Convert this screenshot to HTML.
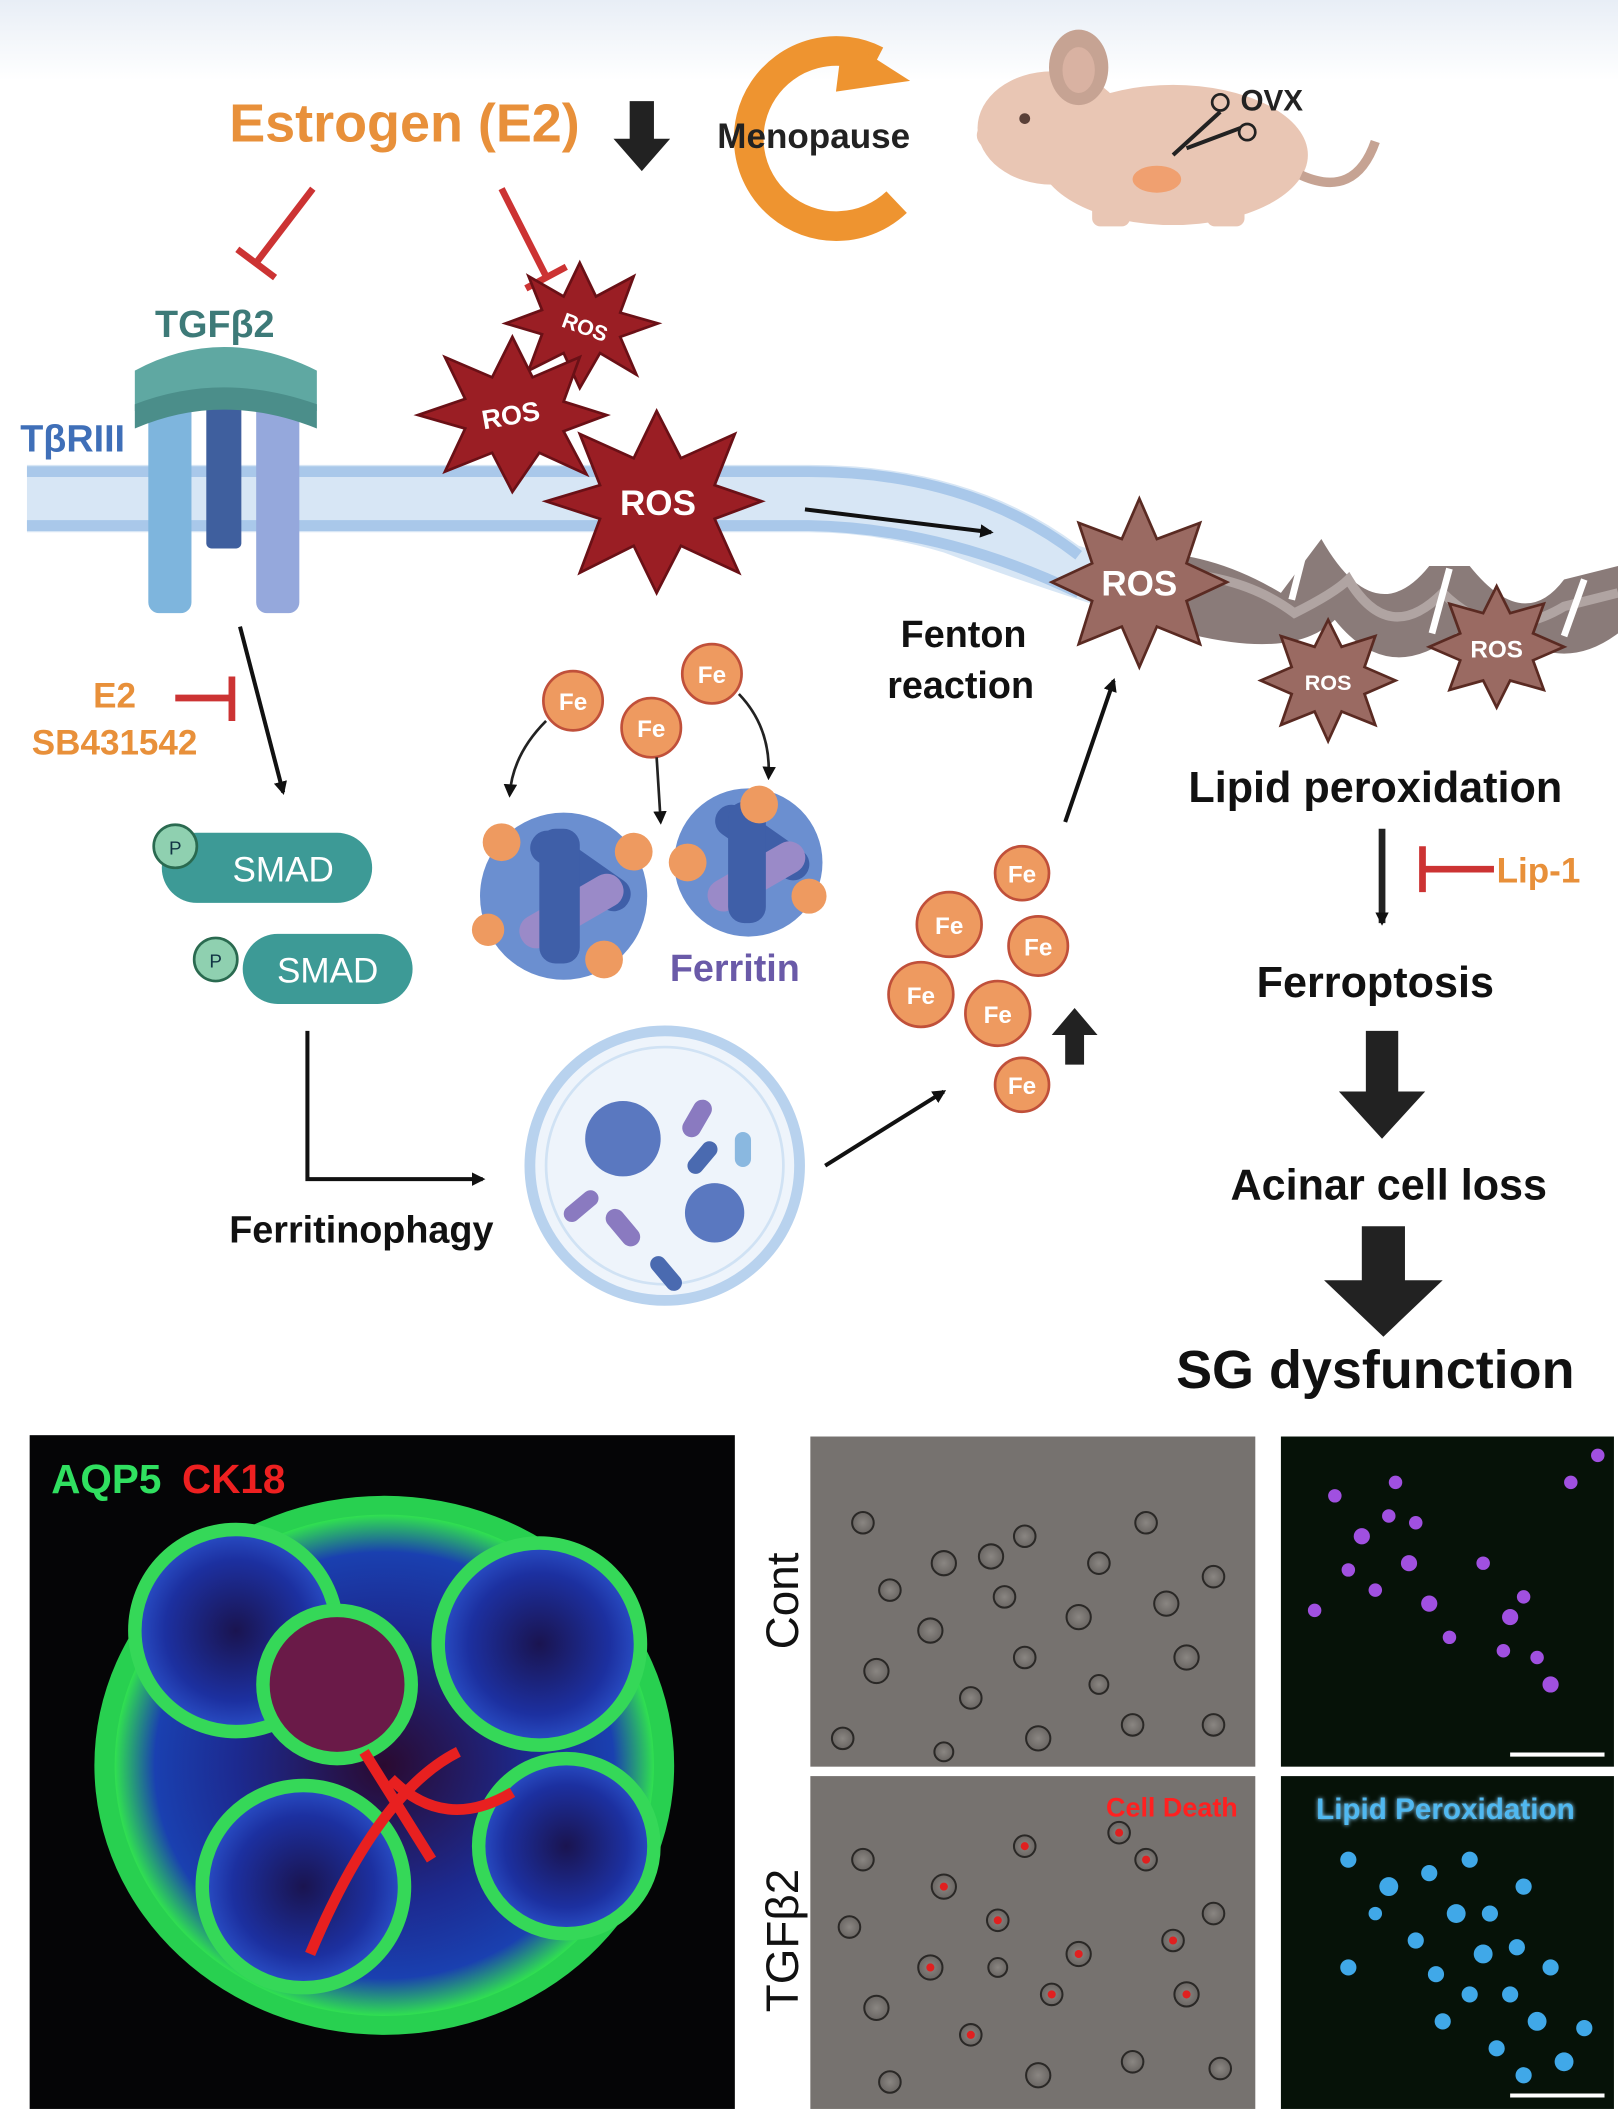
<!DOCTYPE html>
<html><head><meta charset="utf-8">
<style>
html,body{margin:0;padding:0;background:#fff;}
svg{display:block;}
text{font-family:"Liberation Sans",sans-serif;font-weight:bold;}
.n{font-weight:normal;}
</style></head>
<body>
<svg width="1618" height="2113" viewBox="0 0 1200 1568" preserveAspectRatio="none" xmlns="http://www.w3.org/2000/svg">
<defs>
<linearGradient id="topbg" x1="0" y1="0" x2="0" y2="1"><stop offset="0" stop-color="#e8eef6"/><stop offset="1" stop-color="#ffffff"/></linearGradient>
<radialGradient id="org" cx="0.5" cy="0.5" r="0.5"><stop offset="0" stop-color="#2a0a30"/><stop offset="0.55" stop-color="#1c2a90"/><stop offset="0.85" stop-color="#1a40b0"/><stop offset="1" stop-color="#30e050"/></radialGradient>
<radialGradient id="lobe" cx="0.5" cy="0.5" r="0.5"><stop offset="0" stop-color="#1a1450"/><stop offset="0.7" stop-color="#1c30a0"/><stop offset="1" stop-color="#2a50c8"/></radialGradient>
<radialGradient id="cellg" cx="0.5" cy="0.5" r="0.5"><stop offset="0" stop-color="#8a8682"/><stop offset="1" stop-color="#6a6663"/></radialGradient>
<filter id="glow"><feGaussianBlur stdDeviation="1.5"/></filter>
<marker id="ah" markerWidth="10" markerHeight="10" refX="8" refY="5" orient="auto" markerUnits="userSpaceOnUse"><path d="M0,0 L10,5 L0,10 z" fill="#111"/></marker>
</defs>
<rect x="0" y="0" width="1200" height="60" fill="url(#topbg)"/>

<text x="170" y="105" font-size="40" fill="#e8903a">Estrogen (E2)</text>
<path d="M467,75 h18 v28 h12 l-21,24 l-21,-24 h12 z" fill="#222"/>
<path d="M650,45 A65,65 0 1 0 665,150" fill="none" stroke="#ee9430" stroke-width="22"/>
<path d="M625,28 l50,32 l-55,8 z" fill="#ee9430"/>
<text x="532" y="110" font-size="26" fill="#222">Menopause</text>
<!-- mouse -->
<g fill="#e9c6b4">
<ellipse cx="870" cy="115" rx="100" ry="52"/>
<ellipse cx="780" cy="95" rx="55" ry="42"/>
<path d="M730,90 Q720,100 728,108 L760,110 Z"/>
<rect x="810" y="150" width="28" height="18" rx="6"/><rect x="895" y="150" width="28" height="18" rx="6"/>
</g>
<ellipse cx="800" cy="50" rx="22" ry="28" fill="#c6a393"/>
<ellipse cx="800" cy="52" rx="12" ry="17" fill="#d9b2a2"/>
<circle cx="760" cy="88" r="4" fill="#5a4038"/>
<path d="M965,130 q40,18 55,-25" fill="none" stroke="#c6a393" stroke-width="7"/>
<ellipse cx="858" cy="133" rx="18" ry="10" fill="#f0a070"/>
<text x="920" y="82" font-size="22" fill="#222">OVX</text>
<path d="M870,115 l35,-32 M880,110 l40,-15" stroke="#222" stroke-width="3" fill="none"/>
<circle cx="905" cy="76" r="6" fill="none" stroke="#222" stroke-width="2"/><circle cx="925" cy="98" r="6" fill="none" stroke="#222" stroke-width="2"/>

<g stroke="#cc3333" stroke-width="5" fill="none">
<path d="M232,140 L190,195 M176,185 L204,206"/>
<path d="M372,140 L405,205 M390,214 L420,198"/>
<path d="M130,518 L172,518 M172,502 L172,535"/>
<path d="M1108,645 L1055,645 M1055,628 L1055,662"/>
</g>

<path d="M20,345 L600,345 Q720,345 800,405 L880,430 L880,470 Q780,440 700,410 Q650,395 600,395 L20,395 Z" fill="#d7e6f5"/>
<path d="M20,350 L600,350 Q720,350 800,412" fill="none" stroke="#a9c8ea" stroke-width="8"/>
<path d="M20,390 L600,390 Q700,392 800,440" fill="none" stroke="#a9c8ea" stroke-width="8"/>
<path d="M850,410 Q900,410 950,440 L980,400 Q1020,470 1060,420 L1090,420 Q1130,470 1160,430 L1200,420 L1200,470 Q1160,500 1120,470 L1080,470 Q1030,510 990,460 Q960,490 880,470 Z" fill="#8a7b79"/>
<path d="M860,425 Q920,425 960,455 Q990,440 1000,430 Q1030,480 1070,440 Q1110,480 1160,450 L1200,440" fill="none" stroke="#b0a4a2" stroke-width="7"/>
<path d="M970,398 L958,445 M1075,422 L1062,470 M1175,430 L1160,472" stroke="#fff" stroke-width="5"/>

<text x="115" y="250" font-size="28" fill="#3d7a78">TGFβ2</text>
<text x="15" y="335" font-size="28" fill="#3f6fb8">TβRIII</text>
<rect x="110" y="295" width="32" height="160" rx="8" fill="#7eb5dd"/>
<rect x="153" y="295" width="26" height="112" rx="4" fill="#3f5f9e"/>
<rect x="190" y="295" width="32" height="160" rx="8" fill="#95a8dc"/>
<path d="M100,275 Q165,240 235,275 L235,305 Q165,275 100,305 Z" fill="#5fa8a2"/>
<path d="M100,300 Q165,275 235,300 L235,318 Q165,290 100,318 Z" fill="#4b8e8a"/>

<g fill="#9a1e24" stroke="#6a1016" stroke-width="2">
<polygon points="430,195 442,220 470,205 460,232 488,240 460,250 472,278 445,262 430,288 418,262 392,275 402,248 375,240 402,230 392,205 418,220"/>
<polygon points="380,250 395,280 430,265 418,298 450,308 418,320 435,352 400,336 380,365 365,336 330,350 345,318 310,308 345,296 330,265 365,280"/>
<polygon points="487,305 505,340 545,322 530,360 565,372 530,385 548,425 505,405 487,440 470,405 430,425 445,385 405,372 445,360 430,322 470,340"/>
</g>
<g font-size="20" fill="#fff" text-anchor="middle">
<text x="432" y="248" font-size="16" transform="rotate(20 432 248)">ROS</text>
<text x="380" y="315" transform="rotate(-10 380 315)">ROS</text>
<text x="488" y="382" font-size="26">ROS</text>
</g>
<line x1="597" y1="378" x2="735" y2="395" stroke="#111" stroke-width="3" marker-end="url(#ah)"/>

<g fill="#9a6a62" stroke="#5a2a22" stroke-width="2">
<polygon points="845,370 858,400 890,388 880,418 910,432 880,446 890,478 858,465 845,495 832,465 800,478 810,446 780,432 810,418 800,388 832,400"/>
<polygon points="985,460 995,480 1020,472 1012,495 1035,505 1012,515 1020,538 995,528 985,550 975,528 950,538 958,515 935,505 958,495 950,472 975,480"/>
<polygon points="1110,435 1120,455 1145,448 1137,470 1160,480 1137,490 1145,512 1120,505 1110,525 1100,505 1075,512 1083,490 1060,480 1083,470 1075,448 1100,455"/>
</g>
<g fill="#fff" text-anchor="middle">
<text x="845" y="442" font-size="26">ROS</text>
<text x="985" y="512" font-size="16">ROS</text>
<text x="1110" y="488" font-size="18">ROS</text>
</g>

<text x="668" y="480" font-size="28" fill="#111">Fenton</text>
<text x="658" y="518" font-size="28" fill="#111">reaction</text>
<line x1="790" y1="610" x2="826" y2="505" stroke="#111" stroke-width="3" marker-end="url(#ah)"/>

<text x="1020" y="595" font-size="32" fill="#111" text-anchor="middle">Lipid peroxidation</text>
<line x1="1025" y1="615" x2="1025" y2="685" stroke="#222" stroke-width="5" marker-end="url(#ah)"/>
<text x="1110" y="655" font-size="26" fill="#e8903a">Lip-1</text>
<text x="1020" y="740" font-size="32" fill="#111" text-anchor="middle">Ferroptosis</text>
<path d="M1013,765 h24 v45 h20 l-32,35 l-32,-35 h20 z" fill="#222"/>
<text x="1030" y="890" font-size="32" fill="#111" text-anchor="middle">Acinar cell loss</text>
<path d="M1010,910 h32 v40 h28 l-44,42 l-44,-42 h28 z" fill="#222"/>
<text x="1020" y="1030" font-size="40" fill="#111" text-anchor="middle">SG dysfunction</text>

<text x="85" y="525" font-size="26" fill="#e8903a" text-anchor="middle">E2</text>
<text x="85" y="560" font-size="26" fill="#e8903a" text-anchor="middle">SB431542</text>
<line x1="178" y1="465" x2="210" y2="588" stroke="#111" stroke-width="3" marker-end="url(#ah)"/>

<rect x="120" y="618" width="156" height="52" rx="26" fill="#3d9a96"/>
<circle cx="130" cy="628" r="16" fill="#8fd0b0" stroke="#2a6a50" stroke-width="2"/>
<text x="130" y="634" font-size="14" fill="#134" text-anchor="middle" style="font-weight:normal">P</text>
<text x="210" y="654" font-size="26" fill="#fff" text-anchor="middle" style="font-weight:normal">SMAD</text>
<rect x="180" y="693" width="126" height="52" rx="26" fill="#3d9a96"/>
<circle cx="160" cy="712" r="16" fill="#8fd0b0" stroke="#2a6a50" stroke-width="2"/>
<text x="160" y="718" font-size="14" fill="#134" text-anchor="middle" style="font-weight:normal">P</text>
<text x="243" y="729" font-size="26" fill="#fff" text-anchor="middle" style="font-weight:normal">SMAD</text>

<g>
<circle cx="418" cy="665" r="62" fill="#6b8fd0"/>
<rect x="375" y="630" width="85" height="25" rx="12" fill="#3f5fa8" transform="rotate(35 418 665)"/>
<rect x="375" y="665" width="85" height="25" rx="12" fill="#9a8ac8" transform="rotate(-30 418 665)"/>
<rect x="400" y="615" width="30" height="100" rx="12" fill="#3f5fa8"/>
<circle cx="555" cy="640" r="55" fill="#6b8fd0"/>
<rect x="515" y="610" width="80" height="24" rx="12" fill="#3f5fa8" transform="rotate(35 555 640)"/>
<rect x="515" y="640" width="80" height="24" rx="12" fill="#9a8ac8" transform="rotate(-30 555 640)"/>
<rect x="540" y="595" width="28" height="90" rx="12" fill="#3f5fa8"/>
</g>
<g fill="#ee9a60">
<circle cx="372" cy="625" r="14"/><circle cx="470" cy="632" r="14"/><circle cx="448" cy="712" r="14"/><circle cx="362" cy="690" r="12"/>
<circle cx="563" cy="597" r="14"/><circle cx="510" cy="640" r="14"/><circle cx="600" cy="665" r="13"/>
</g>
<text x="545" y="728" font-size="28" fill="#6a5aa8" text-anchor="middle">Ferritin</text>
<g fill="#ee9a60" stroke="#c0503a" stroke-width="2">
<circle cx="425" cy="520" r="22"/><circle cx="483" cy="540" r="22"/><circle cx="528" cy="500" r="22"/>
</g>
<g fill="#fff" font-size="18" text-anchor="middle">
<text x="425" y="527">Fe</text><text x="483" y="547">Fe</text><text x="528" y="507">Fe</text>
</g>
<g fill="none" stroke="#222" stroke-width="2">
<path d="M405,535 Q380,560 378,590" marker-end="url(#ah)"/>
<path d="M487,562 L490,610" marker-end="url(#ah)"/>
<path d="M548,515 Q572,540 570,577" marker-end="url(#ah)"/>
</g>

<path d="M228,765 L228,875 L358,875" fill="none" stroke="#111" stroke-width="3" marker-end="url(#ah)"/>
<text x="268" y="922" font-size="28" fill="#111" text-anchor="middle">Ferritinophagy</text>
<circle cx="493" cy="865" r="100" fill="#eef4fb" stroke="#b8d2ee" stroke-width="8"/>
<circle cx="493" cy="865" r="88" fill="none" stroke="#d0e2f4" stroke-width="2"/>
<circle cx="462" cy="845" r="28" fill="#5a78c0"/>
<circle cx="530" cy="900" r="22" fill="#5a78c0"/>
<g fill="#8a7ac0"><rect x="510" y="815" width="14" height="30" rx="7" transform="rotate(30 517 830)"/><rect x="455" y="895" width="14" height="32" rx="7" transform="rotate(-40 462 911)"/><rect x="425" y="880" width="12" height="30" rx="6" transform="rotate(50 431 895)"/></g>
<g fill="#4a6ab0"><rect x="515" y="845" width="12" height="28" rx="6" transform="rotate(40 521 859)"/><rect x="488" y="930" width="12" height="30" rx="6" transform="rotate(-40 494 945)"/></g>
<rect x="545" y="840" width="12" height="26" rx="6" fill="#8ab8e0"/>
<line x1="612" y1="865" x2="700" y2="810" stroke="#111" stroke-width="3" marker-end="url(#ah)"/>

<g fill="#ee9a60" stroke="#c0503a" stroke-width="2">
<circle cx="758" cy="648" r="20"/><circle cx="704" cy="686" r="24"/><circle cx="770" cy="702" r="22"/>
<circle cx="683" cy="738" r="24"/><circle cx="740" cy="752" r="24"/><circle cx="758" cy="805" r="20"/>
</g>
<g fill="#fff" font-size="18" text-anchor="middle">
<text x="758" y="655">Fe</text><text x="704" y="693">Fe</text><text x="770" y="709">Fe</text>
<text x="683" y="745">Fe</text><text x="740" y="759">Fe</text><text x="758" y="812">Fe</text>
</g>
<path d="M790,790 v-22 h-10 l17,-20 l17,20 h-10 v22 z" fill="#222"/>

<!-- bottom left image -->
<rect x="22" y="1065" width="523" height="500" fill="#050506"/>
<g>
<ellipse cx="285" cy="1310" rx="215" ry="200" fill="#28d050"/>
<ellipse cx="285" cy="1310" rx="200" ry="186" fill="url(#org)"/>
<circle cx="175" cy="1210" r="75" fill="url(#lobe)" stroke="#35d858" stroke-width="10"/>
<circle cx="400" cy="1220" r="75" fill="url(#lobe)" stroke="#35d858" stroke-width="10"/>
<circle cx="250" cy="1250" r="55" fill="#6a1a48" stroke="#35d858" stroke-width="10"/>
<circle cx="225" cy="1400" r="75" fill="url(#lobe)" stroke="#35d858" stroke-width="10"/>
<circle cx="420" cy="1370" r="65" fill="url(#lobe)" stroke="#35d858" stroke-width="10"/>
<path d="M230,1450 Q280,1330 340,1300 M290,1320 Q330,1360 380,1330 M270,1300 L320,1380" stroke="#e82020" stroke-width="8" fill="none"/>
</g>
<text x="38" y="1108" font-size="30" fill="#30e060">AQP5</text>
<text x="135" y="1108" font-size="30" fill="#ee2020">CK18</text>

<!-- middle panels -->
<rect x="601" y="1066" width="330" height="245" fill="#76726f"/>
<rect x="601" y="1318" width="330" height="247" fill="#76726f"/>
<g fill="url(#cellg)" stroke="#2a2826" stroke-width="1.5">
<circle cx="640" cy="1130" r="8"/><circle cx="700" cy="1160" r="9"/><circle cx="760" cy="1140" r="8"/><circle cx="800" cy="1200" r="9"/><circle cx="850" cy="1130" r="8"/><circle cx="880" cy="1230" r="9"/><circle cx="650" cy="1240" r="9"/><circle cx="720" cy="1260" r="8"/><circle cx="770" cy="1290" r="9"/><circle cx="900" cy="1170" r="8"/><circle cx="840" cy="1280" r="8"/><circle cx="690" cy="1210" r="9"/>
<circle cx="745" cy="1185" r="8"/><circle cx="735" cy="1155" r="9"/><circle cx="815" cy="1160" r="8"/><circle cx="660" cy="1180" r="8"/><circle cx="625" cy="1290" r="8"/><circle cx="865" cy="1190" r="9"/><circle cx="700" cy="1300" r="7"/><circle cx="900" cy="1280" r="8"/><circle cx="815" cy="1250" r="7"/><circle cx="760" cy="1230" r="8"/>
<circle cx="640" cy="1380" r="8"/><circle cx="700" cy="1400" r="9"/><circle cx="760" cy="1370" r="8"/><circle cx="800" cy="1450" r="9"/><circle cx="850" cy="1380" r="8"/><circle cx="880" cy="1480" r="9"/><circle cx="650" cy="1490" r="9"/><circle cx="720" cy="1510" r="8"/><circle cx="770" cy="1540" r="9"/><circle cx="900" cy="1420" r="8"/><circle cx="840" cy="1530" r="8"/><circle cx="690" cy="1460" r="9"/>
<circle cx="830" cy="1360" r="8"/><circle cx="740" cy="1425" r="8"/><circle cx="780" cy="1480" r="8"/><circle cx="630" cy="1430" r="8"/><circle cx="870" cy="1440" r="8"/><circle cx="740" cy="1460" r="7"/><circle cx="660" cy="1545" r="8"/><circle cx="905" cy="1535" r="8"/>
</g>
<g fill="#e02020"><circle cx="700" cy="1400" r="3"/><circle cx="800" cy="1450" r="3"/><circle cx="850" cy="1380" r="3"/><circle cx="720" cy="1510" r="3"/><circle cx="880" cy="1480" r="3"/><circle cx="760" cy="1370" r="3"/><circle cx="690" cy="1460" r="3"/><circle cx="830" cy="1360" r="3"/><circle cx="740" cy="1425" r="3"/><circle cx="780" cy="1480" r="3"/><circle cx="870" cy="1440" r="3"/></g>
<text x="918" y="1348" font-size="20" fill="#ff2020" text-anchor="end">Cell Death</text>
<text transform="translate(592,1188) rotate(-90)" font-size="34" fill="#111" text-anchor="middle" style="font-weight:normal">Cont</text>
<text transform="translate(592,1440) rotate(-90)" font-size="34" fill="#111" text-anchor="middle" style="font-weight:normal">TGFβ2</text>

<!-- right panels -->
<rect x="950" y="1066" width="247" height="245" fill="#061208"/>
<rect x="950" y="1318" width="247" height="247" fill="#061208"/>
<g fill="#a050e0">
<circle cx="990" cy="1110" r="5"/><circle cx="1010" cy="1140" r="6"/><circle cx="1030" cy="1125" r="5"/><circle cx="1045" cy="1160" r="6"/><circle cx="1020" cy="1180" r="5"/><circle cx="1060" cy="1190" r="6"/><circle cx="1075" cy="1215" r="5"/><circle cx="1120" cy="1200" r="6"/><circle cx="1140" cy="1230" r="5"/><circle cx="1150" cy="1250" r="6"/><circle cx="975" cy="1195" r="5"/><circle cx="1185" cy="1080" r="5"/><circle cx="1100" cy="1160" r="5"/>
<circle cx="1035" cy="1100" r="5"/><circle cx="1050" cy="1130" r="5"/><circle cx="1130" cy="1185" r="5"/><circle cx="1115" cy="1225" r="5"/><circle cx="1000" cy="1165" r="5"/><circle cx="1165" cy="1100" r="5"/>
</g>
<line x1="1120" y1="1302" x2="1190" y2="1302" stroke="#fff" stroke-width="3"/>
<g fill="#40a8e8">
<circle cx="1000" cy="1380" r="6"/><circle cx="1030" cy="1400" r="7"/><circle cx="1060" cy="1390" r="6"/><circle cx="1080" cy="1420" r="7"/><circle cx="1050" cy="1440" r="6"/><circle cx="1100" cy="1450" r="7"/><circle cx="1120" cy="1480" r="6"/><circle cx="1140" cy="1500" r="7"/><circle cx="1110" cy="1520" r="6"/><circle cx="1160" cy="1530" r="7"/><circle cx="1000" cy="1460" r="6"/><circle cx="1130" cy="1400" r="6"/><circle cx="1090" cy="1380" r="6"/><circle cx="1070" cy="1500" r="6"/><circle cx="1150" cy="1460" r="6"/>
<circle cx="1105" cy="1420" r="6"/><circle cx="1125" cy="1445" r="6"/><circle cx="1090" cy="1480" r="6"/><circle cx="1130" cy="1540" r="6"/><circle cx="1175" cy="1505" r="6"/><circle cx="1020" cy="1420" r="5"/><circle cx="1065" cy="1465" r="6"/>
</g>
<line x1="1120" y1="1555" x2="1190" y2="1555" stroke="#fff" stroke-width="3"/>
<text x="1072" y="1350" font-size="22" fill="#8ad4ff" text-anchor="middle" filter="url(#glow)">Lipid Peroxidation</text>
<text x="1072" y="1350" font-size="22" fill="#50b8f0" text-anchor="middle">Lipid Peroxidation</text>
</svg>
</body></html>
